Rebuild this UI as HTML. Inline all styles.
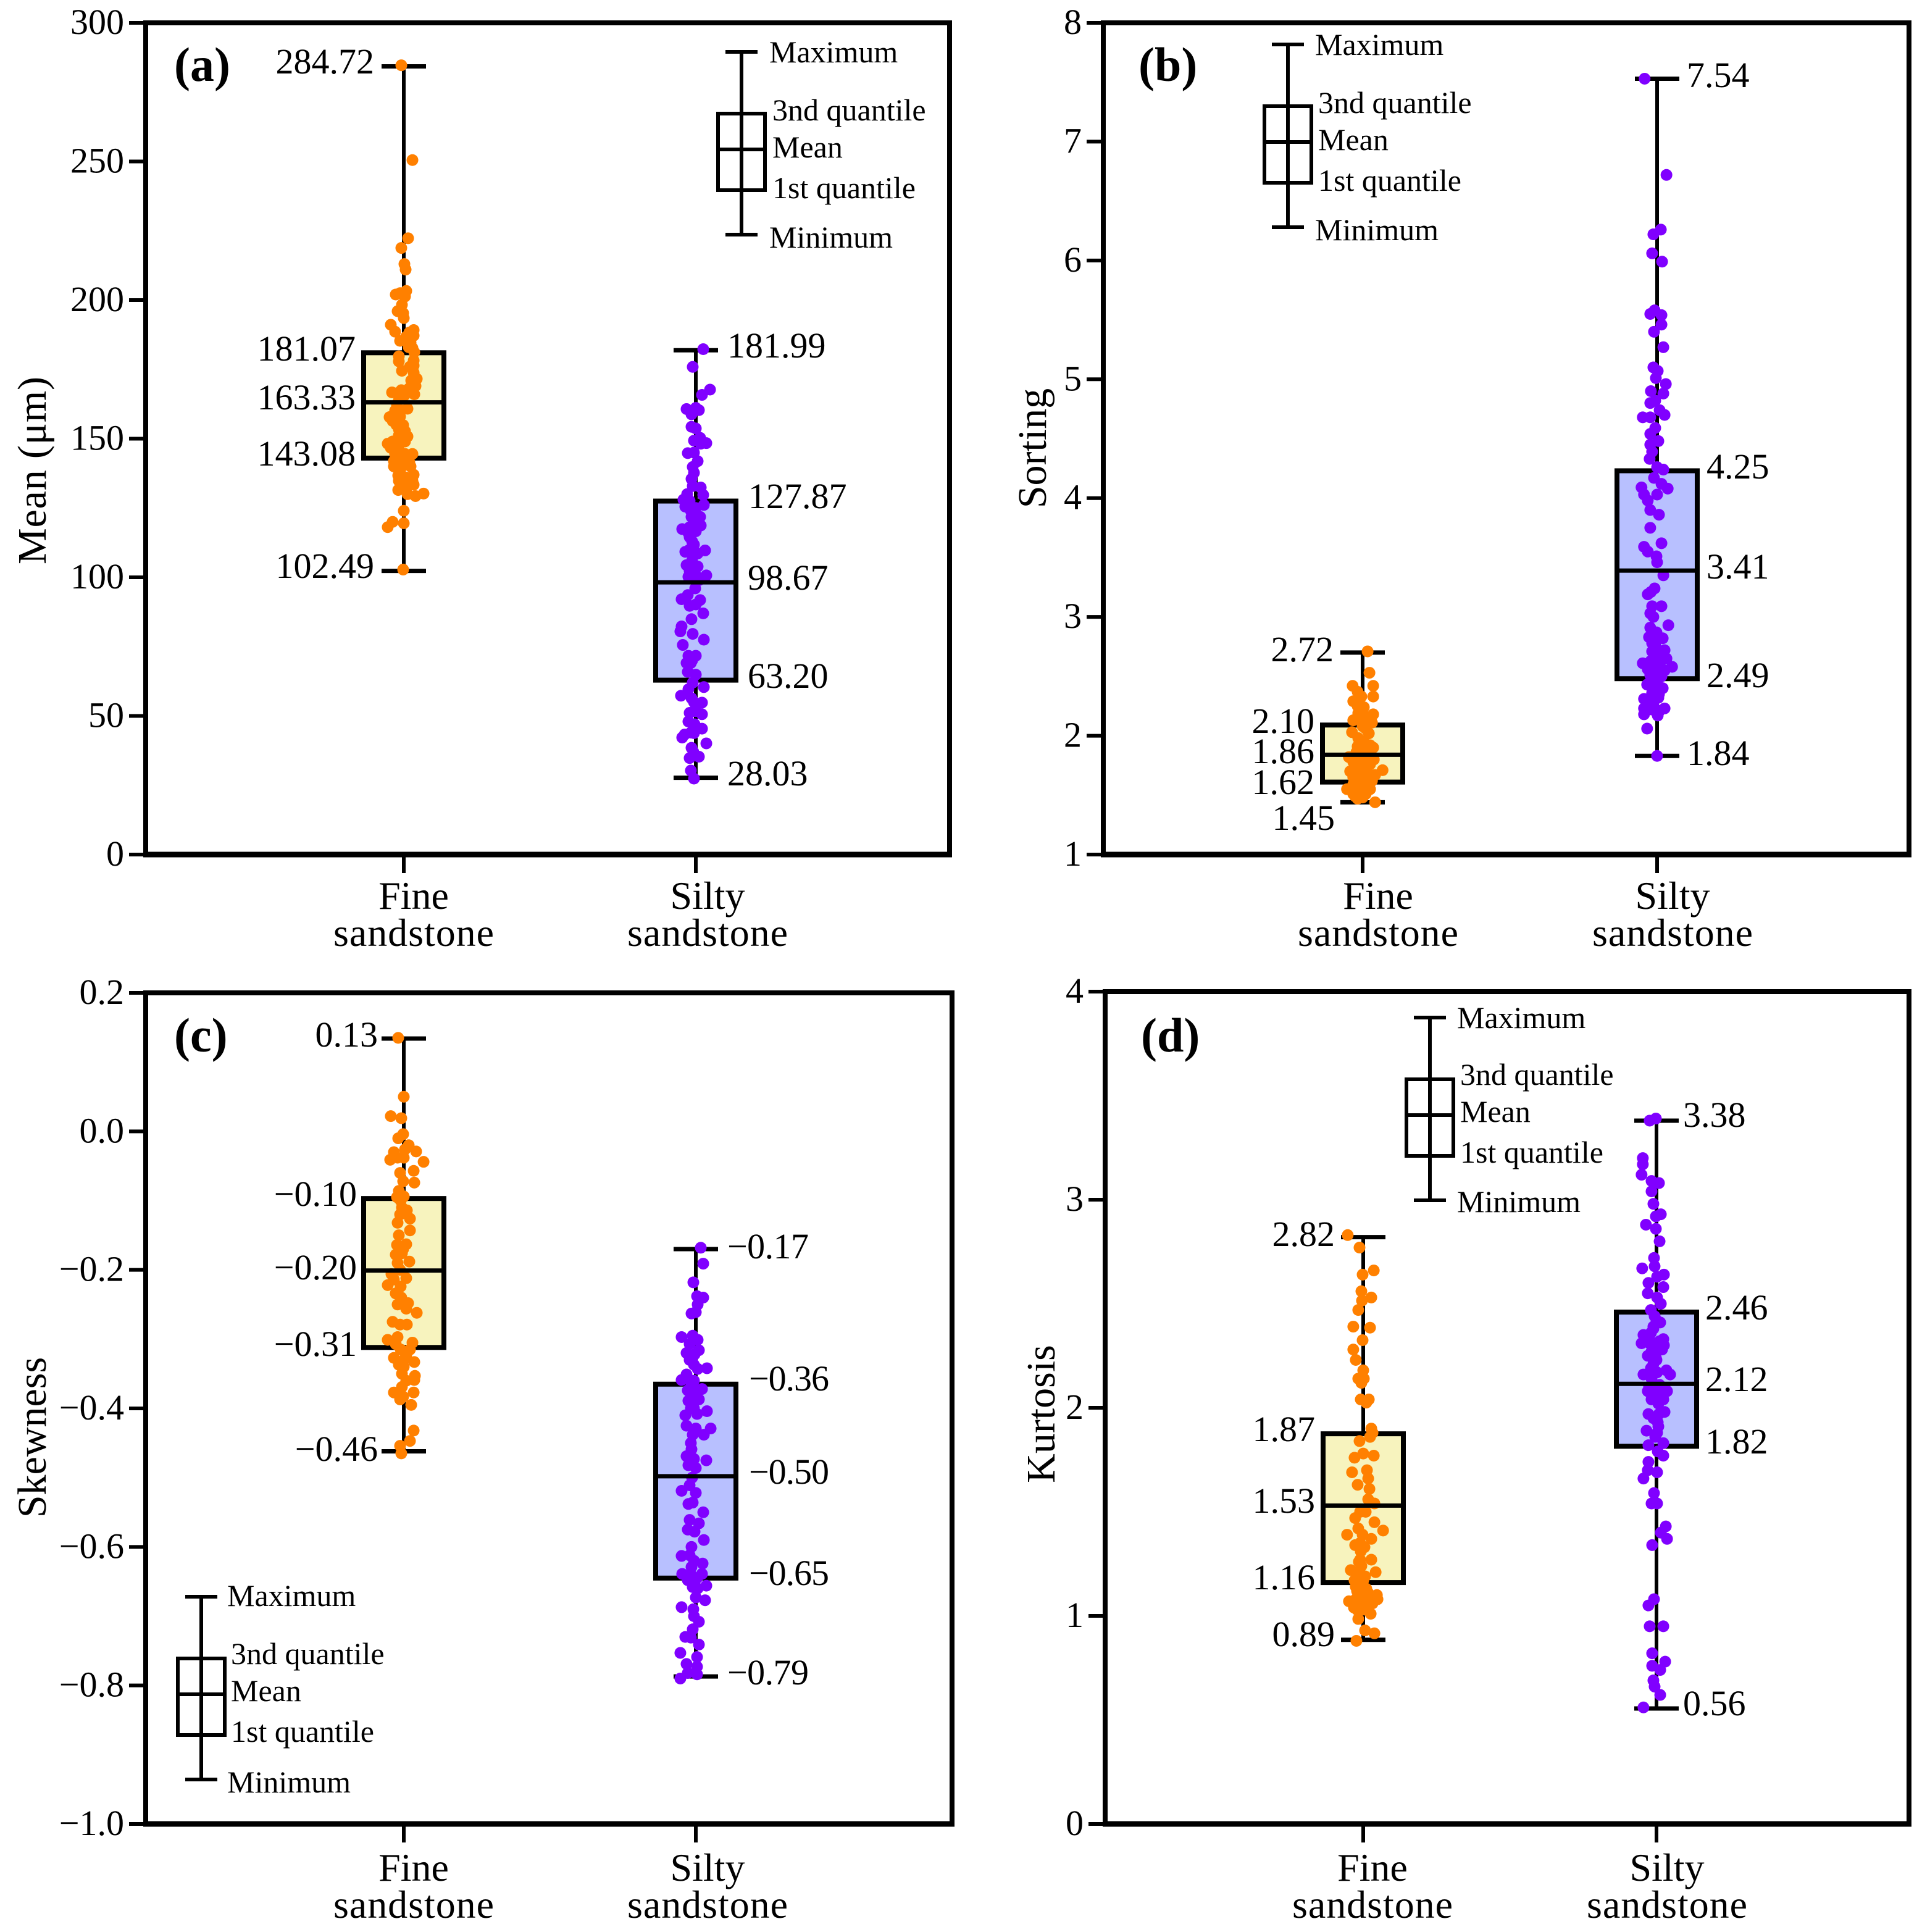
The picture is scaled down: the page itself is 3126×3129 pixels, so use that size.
<!DOCTYPE html>
<html lang="en">
<head>
<meta charset="utf-8">
<title>Grain size parameters of fine and silty sandstone</title>
<style>
html,body{margin:0;padding:0;background:#fff;}
svg{display:block;}
text{font-family:"Liberation Serif",serif;fill:#000;}
.val{font-size:58px;}
.key{font-size:50px;}
.cat{font-size:64px;}
.title{font-size:66px;}
.tag{font-size:78px;font-weight:bold;}
.tick{font-size:58px;}
</style>
</head>
<body>
<svg id="figure" xmlns="http://www.w3.org/2000/svg" width="3126" height="3129" viewBox="0 0 3126 3129">
<rect width="3126" height="3129" fill="#fff"/>
<g id="plots"></g>

<!-- panel tags -->
<text class="tag" x="282" y="131">(a)</text>
<text class="tag" x="1844" y="131">(b)</text>
<text class="tag" x="282" y="1703">(c)</text>
<text class="tag" x="1848" y="1703">(d)</text>

<!-- axis titles -->
<text class="title" transform="translate(74,762) rotate(-90)" text-anchor="middle" textLength="304">Mean (μm)</text>
<text class="title" transform="translate(1694,726) rotate(-90)" text-anchor="middle">Sorting</text>
<text class="title" transform="translate(74,2328) rotate(-90)" text-anchor="middle">Skewness</text>
<text class="title" transform="translate(1708,2290) rotate(-90)" text-anchor="middle">Kurtosis</text>

<!-- category labels -->
<g class="cat" text-anchor="middle">
<text class="cat" x="670" y="1472">Fine</text>
<text class="cat" x="670" y="1532" textLength="260">sandstone</text>
<text class="cat" x="1146" y="1472">Silty</text>
<text class="cat" x="1146" y="1532" textLength="260">sandstone</text>
<text class="cat" x="2232" y="1472">Fine</text>
<text class="cat" x="2232" y="1532" textLength="260">sandstone</text>
<text class="cat" x="2709" y="1472">Silty</text>
<text class="cat" x="2709" y="1532" textLength="260">sandstone</text>
<text class="cat" x="670" y="3046">Fine</text>
<text class="cat" x="670" y="3106" textLength="260">sandstone</text>
<text class="cat" x="1146" y="3046">Silty</text>
<text class="cat" x="1146" y="3106" textLength="260">sandstone</text>
<text class="cat" x="2223" y="3046">Fine</text>
<text class="cat" x="2223" y="3106" textLength="260">sandstone</text>
<text class="cat" x="2700" y="3046">Silty</text>
<text class="cat" x="2700" y="3106" textLength="260">sandstone</text>
</g>

<!-- printed statistics -->
<g>
<text class="val" text-anchor="end" x="606" y="119">284.72</text>
<text class="val" text-anchor="end" x="576" y="584">181.07</text>
<text class="val" text-anchor="end" x="576" y="663">163.33</text>
<text class="val" text-anchor="end" x="576" y="754">143.08</text>
<text class="val" text-anchor="end" x="606" y="936">102.49</text>
<text class="val" x="1178" y="579">181.99</text>
<text class="val" x="1212" y="823">127.87</text>
<text class="val" x="1211" y="955">98.67</text>
<text class="val" x="1211" y="1114">63.20</text>
<text class="val" x="1178" y="1272">28.03</text>
</g>
<g>
<text class="val" text-anchor="end" x="2160" y="1071">2.72</text>
<text class="val" text-anchor="end" x="2129" y="1187">2.10</text>
<text class="val" text-anchor="end" x="2129" y="1236">1.86</text>
<text class="val" text-anchor="end" x="2129" y="1286">1.62</text>
<text class="val" text-anchor="end" x="2162" y="1344">1.45</text>
<text class="val" x="2732" y="141">7.54</text>
<text class="val" x="2764" y="775">4.25</text>
<text class="val" x="2764" y="937">3.41</text>
<text class="val" x="2764" y="1113">2.49</text>
<text class="val" x="2732" y="1239">1.84</text>
</g>
<g>
<text class="val" text-anchor="end" x="612" y="1695">0.13</text>
<text class="val" text-anchor="end" x="578" y="1953">−0.10</text>
<text class="val" text-anchor="end" x="578" y="2072">−0.20</text>
<text class="val" text-anchor="end" x="578" y="2196">−0.31</text>
<text class="val" text-anchor="end" x="612" y="2366">−0.46</text>
<text class="val" x="1178" y="2038" textLength="132">−0.17</text>
<text class="val" x="1213" y="2252" textLength="130">−0.36</text>
<text class="val" x="1213" y="2403" textLength="130">−0.50</text>
<text class="val" x="1213" y="2567" textLength="130">−0.65</text>
<text class="val" x="1178" y="2728" textLength="132">−0.79</text>
</g>
<g>
<text class="val" text-anchor="end" x="2162" y="2018">2.82</text>
<text class="val" text-anchor="end" x="2130" y="2334">1.87</text>
<text class="val" text-anchor="end" x="2130" y="2450">1.53</text>
<text class="val" text-anchor="end" x="2130" y="2574">1.16</text>
<text class="val" text-anchor="end" x="2162" y="2666">0.89</text>
<text class="val" x="2726" y="1825">3.38</text>
<text class="val" x="2762" y="2137">2.46</text>
<text class="val" x="2762" y="2253">2.12</text>
<text class="val" x="2762" y="2354">1.82</text>
<text class="val" x="2726" y="2778">0.56</text>
</g>

<!-- legend keys -->
<g transform="translate(1201,84)" stroke="#000" stroke-width="6" fill="none">
<path d="M-26 0H26M0 0V296M-26 296H26"/>
<rect x="-38" y="100" width="76" height="124"/>
<path d="M-38 158H38"/>
<g stroke="none" fill="#000">
<text class="key" x="45" y="17">Maximum</text>
<text class="key" x="50" y="111">3nd quantile</text>
<text class="key" x="50" y="171">Mean</text>
<text class="key" x="50" y="237">1st quantile</text>
<text class="key" x="45" y="317">Minimum</text>
</g></g>
<g transform="translate(2086,72)" stroke="#000" stroke-width="6" fill="none">
<path d="M-26 0H26M0 0V296M-26 296H26"/>
<rect x="-38" y="100" width="76" height="124"/>
<path d="M-38 158H38"/>
<g stroke="none" fill="#000">
<text class="key" x="44" y="17">Maximum</text>
<text class="key" x="49" y="111">3nd quantile</text>
<text class="key" x="49" y="171">Mean</text>
<text class="key" x="49" y="237">1st quantile</text>
<text class="key" x="44" y="317">Minimum</text>
</g></g>
<g transform="translate(326,2586)" stroke="#000" stroke-width="6" fill="none">
<path d="M-26 0H26M0 0V296M-26 296H26"/>
<rect x="-38" y="100" width="76" height="124"/>
<path d="M-38 158H38"/>
<g stroke="none" fill="#000">
<text class="key" x="42" y="15">Maximum</text>
<text class="key" x="48" y="109">3nd quantile</text>
<text class="key" x="48" y="169">Mean</text>
<text class="key" x="48" y="235">1st quantile</text>
<text class="key" x="42" y="317">Minimum</text>
</g></g>
<g transform="translate(2316,1648)" stroke="#000" stroke-width="6" fill="none">
<path d="M-26 0H26M0 0V296M-26 296H26"/>
<rect x="-38" y="100" width="76" height="124"/>
<path d="M-38 158H38"/>
<g stroke="none" fill="#000">
<text class="key" x="44" y="17">Maximum</text>
<text class="key" x="49" y="109">3nd quantile</text>
<text class="key" x="49" y="169">Mean</text>
<text class="key" x="49" y="235">1st quantile</text>
<text class="key" x="44" y="315">Minimum</text>
</g></g>
</svg>

<script>
// ---- Tick values and labels ----
const meanTicks = [0,50,100,150,200,250,300];
const meanTickLabels = ["0","50","100","150","200","250","300"];
const sortingTicks = [1,2,3,4,5,6,7,8];
const sortingTickLabels = ["1","2","3","4","5","6","7","8"];
const skewTicks = [-1,-0.8,-0.6,-0.4,-0.2,0,0.2];
const skewTickLabels = ["−1.0","−0.8","−0.6","−0.4","−0.2","0.0","0.2"];
const kurtTicks = [0,1,2,3,4];
const kurtTickLabels = ["0","1","2","3","4"];

// ---- Box statistics as drawn in the picture: [min, q1, mean, q3, max] ----
const meanFineStats = [102.3,143.0,163.1,181.0,284.3];
const meanSiltyStats = [27.7,62.9,98.2,127.5,181.9];
const sortingFineStats = [1.44,1.61,1.84,2.09,2.70];
const sortingSiltyStats = [1.83,2.48,3.39,4.23,7.53];
const skewFineStats = [-0.462,-0.312,-0.201,-0.097,0.134];
const skewSiltyStats = [-0.787,-0.645,-0.498,-0.365,-0.17];
const kurtFineStats = [0.885,1.16,1.53,1.875,2.82];
const kurtSiltyStats = [0.555,1.815,2.115,2.46,3.38];

// ---- Samples (values) and their horizontal jitter (1/472 of the category spacing) ----
const meanFineValues = [284.7,250.5,222.3,218.8,213,211,202,202.5,203.3,201.3,198.3,196,195.3,193.5,191.1,188.6,189.2,188.3,187.2,186.8,185.3,184.6,182.7,181.2,179.7,177.9,178.2,176.4,174.5,173.8,171.6,169.3,169,167.5,166.7,166.4,166,165.6,163.8,162,160.8,160.1,159.7,157.8,157.8,156.4,156.4,154.9,153.4,152.7,151.2,150.8,149,148.2,149,146.7,147.8,144.5,144.5,144.5,143,141.9,141.5,140,139.7,140,136.7,137,134.8,134.8,133.4,131.5,130,129.3,130.2,124,120,119.5,118.1,102.8,158,155,153,151,148,146,143,141,138,136,133,171,176,183,168];
const meanFineJitter = [-4,14,7,-4,1,3,-13,-6,4,2,-3,-10,-1,0,-21,-14,16,9,16,4,-6,11,14,17,-8,-8,16,16,-3,16,21,14,19,-4,-19,-11,17,1,-8,-11,6,-14,-8,-23,-14,-9,-18,-1,-8,2,-8,6,-18,-26,2,-21,-8,14,-14,2,-4,-16,9,-16,-4,11,-9,16,-8,14,16,-9,6,19,32,0,-18,0,-26,-1,-6,-12,-4,-2,-12,-8,-10,-6,-6,4,3,12,10,8,8];
const meanSiltyValues = [182.3,175.9,167.7,165.8,160.7,161.1,160.3,158.8,154.3,153.7,150.3,149.3,148.4,148.2,144.8,145,141.9,139.8,137.7,135.5,132.9,132.4,129.7,128,127.6,126.1,125.5,125,121.8,121.8,118.7,117.4,118.1,116.6,114.5,111.8,109.7,109.2,108.1,108.6,104.4,103.9,102.3,100.7,100.7,100.2,96,93.6,92.1,91.8,89.7,90.2,87,84.9,82.3,80.5,79.6,77.5,75.6,71.7,71.7,69.1,69.1,65.9,64.9,60.4,59.6,57.3,56.4,54.8,53.8,51.1,50.6,48,51.7,43.3,45.4,42.2,43.8,40.1,38.5,34.8,35.3,30.3,27.4,124,120,116,113,110,106,104,101,99,130,70,62,55,47,44,37];
const meanSiltyJitter = [12,-5,23,10,-15,0,5,-7,-7,0,7,-3,17,8,-13,-3,3,-5,-3,-7,-5,8,12,-20,-10,13,-17,0,7,-7,8,-22,-10,0,-10,-3,15,-17,-3,3,-15,3,-10,17,0,-12,-1,-13,-23,7,-10,0,12,-7,-23,-25,-5,13,-21,0,-12,-15,-8,-13,0,13,-12,-24,-7,10,0,-10,10,-12,0,-18,10,-22,-3,17,-7,-10,5,-8,-3,-8,-3,-12,-6,-10,-6,-10,-6,5,-14,-6,-5,-3,-2,-8,-4];

const sortingFineValues = [2.71,2.53,2.42,2.42,2.37,2.33,2.29,2.33,2.25,2.24,2.18,2.19,2.13,2.16,2.11,2.13,2.08,2.06,2.03,2.02,1.98,1.95,1.92,1.91,1.90,1.90,1.88,1.86,1.85,1.82,1.80,1.78,1.80,1.76,1.75,1.70,1.71,1.72,1.69,1.67,1.66,1.65,1.64,1.62,1.60,1.55,1.59,1.57,1.55,1.53,1.51,1.50,1.51,1.47,1.48,1.44,1.6,1.58,1.56,1.54,1.52,1.49,1.68,1.74,1.79,1.83];
const sortingFineJitter = [8,11,17,-16,-8,17,-15,-2,-8,2,17,-7,-15,5,15,2,0,5,-17,10,-7,2,12,-8,17,5,10,-10,-5,-22,18,-15,-2,12,0,-20,32,-5,8,20,5,-15,2,15,-8,-25,-15,2,12,-5,-15,-3,5,-8,0,20,-12,-8,-4,-10,-6,-12,-3,-6,0,4];
const sortingSiltyValues = [7.53,6.72,6.26,6.22,6.06,5.99,5.55,5.58,5.54,5.46,5.40,5.27,5.10,5.07,5.01,4.96,4.90,4.88,4.80,4.82,4.74,4.68,4.68,4.70,4.59,4.54,4.48,4.45,4.39,4.33,4.26,4.24,4.17,4.09,4.12,4.08,4.03,4.03,3.98,3.90,3.86,3.75,3.59,3.62,3.55,3.51,3.46,3.35,3.24,3.21,3.19,3.09,3.09,3.03,3.0,2.93,2.91,2.83,2.82,2.87,2.76,2.71,2.72,2.69,2.65,2.61,2.63,2.62,2.58,2.56,2.57,2.55,2.51,2.50,2.43,2.45,2.40,2.31,2.36,2.32,2.23,2.23,2.22,2.21,2.18,2.17,2.06,1.83,2.66,2.6,2.54,2.52,2.48,2.46,2.42,2.38,2.35,2.29,2.27,2.2,2.78,2.85];
const sortingSiltyJitter = [-20,15,6,-6,-8,8,-11,-4,7,7,-5,10,-6,1,-2,14,-10,10,-11,-3,4,-23,-11,12,-3,-11,2,-11,-8,-12,0,10,-5,-25,7,17,0,-21,-15,-11,3,-11,-21,7,-15,-1,0,10,-4,-10,-15,-8,7,-11,-6,18,-11,-13,9,-1,-3,-8,12,2,15,-23,-10,5,24,-15,-1,12,-11,7,-16,-3,9,-21,-8,2,-21,12,-8,4,-21,1,-16,0,0,-3,2,-6,-9,0,-8,-3,3,-12,-6,2,-8,-3];

const skewFineValues = [0.135,0.05,0.022,0.019,-0.004,-0.01,-0.02,-0.03,-0.026,-0.029,-0.041,-0.038,-0.038,-0.044,-0.06,-0.057,-0.074,-0.072,-0.086,-0.095,-0.094,-0.11,-0.114,-0.126,-0.132,-0.143,-0.164,-0.163,-0.178,-0.176,-0.188,-0.19,-0.206,-0.212,-0.222,-0.214,-0.234,-0.224,-0.25,-0.248,-0.256,-0.262,-0.275,-0.279,-0.279,-0.297,-0.301,-0.305,-0.307,-0.315,-0.315,-0.327,-0.323,-0.333,-0.337,-0.34,-0.353,-0.359,-0.369,-0.377,-0.377,-0.383,-0.387,-0.395,-0.432,-0.447,-0.454,-0.465,-0.10,-0.12,-0.15,-0.17,-0.2,-0.24,-0.33,-0.35,-0.36];
const skewFineJitter = [-9,0,-21,-4,-1,-9,8,-16,2,20,-22,-10,0,32,-6,16,17,-1,-8,-11,0,-3,5,10,-10,10,-11,4,-13,-3,9,-10,-20,4,-26,-16,-13,-5,-10,7,4,21,-18,5,-6,-10,-26,14,-13,-5,10,-16,4,17,-8,0,18,17,-3,-16,16,-1,-6,12,16,10,-6,-4,-5,-6,-8,-1,-6,-4,0,-3,4];
const skewSiltyValues = [-0.168,-0.191,-0.218,-0.238,-0.24,-0.25,-0.263,-0.261,-0.295,-0.297,-0.301,-0.307,-0.316,-0.32,-0.322,-0.342,-0.337,-0.343,-0.351,-0.359,-0.362,-0.372,-0.374,-0.374,-0.389,-0.387,-0.404,-0.41,-0.408,-0.4,-0.425,-0.429,-0.429,-0.438,-0.438,-0.459,-0.469,-0.475,-0.473,-0.482,-0.486,-0.511,-0.519,-0.522,-0.538,-0.536,-0.55,-0.561,-0.566,-0.575,-0.578,-0.59,-0.6,-0.613,-0.612,-0.624,-0.629,-0.639,-0.639,-0.648,-0.645,-0.656,-0.658,-0.673,-0.677,-0.687,-0.69,-0.708,-0.719,-0.73,-0.731,-0.741,-0.753,-0.759,-0.769,-0.773,-0.782,-0.79,-0.784,-0.33,-0.36,-0.38,-0.40,-0.45,-0.48,-0.50,-0.62,-0.64,-0.66,-0.70];
const skewSiltyJitter = [8,12,-4,2,12,3,-7,0,-5,-23,3,-10,5,-15,-2,18,-3,3,-15,-23,-8,10,-13,0,-12,5,18,-17,2,-8,-15,0,24,13,-5,-7,-15,17,-3,-12,0,-10,-23,0,-12,-5,12,-10,5,-13,-2,13,-7,-23,-10,11,-7,-22,10,-13,2,17,-5,0,15,-23,-4,5,-5,-17,-8,5,-25,2,-15,2,-13,-25,2,-10,-3,-8,-3,-8,-5,-6,-3,-8,3,-3];

const kurtFineValues = [2.83,2.77,2.66,2.64,2.56,2.53,2.515,2.47,2.39,2.385,2.325,2.28,2.23,2.18,2.14,2.14,2.12,2.04,2.04,2.025,1.90,1.88,1.86,1.84,1.76,1.78,1.77,1.69,1.70,1.66,1.63,1.61,1.56,1.54,1.50,1.50,1.47,1.45,1.41,1.42,1.39,1.39,1.37,1.34,1.33,1.27,1.27,1.22,1.21,1.21,1.17,1.12,1.10,1.07,1.08,1.09,1.06,1.08,1.04,1.03,1.01,0.985,0.93,0.916,0.88,1.24,1.19,1.15,1.13,1.11,1.09,1.07,1.05,1.03,1.14,1.17,1.26,1.31,1.35];
const kurtFineJitter = [-25,-6,17,-1,-3,13,-2,-8,-16,11,-1,-16,-12,0,-8,1,-3,-4,9,5,13,15,11,-6,-14,0,17,-18,6,8,-9,10,8,18,-5,4,-13,18,32,-8,-26,-1,13,-13,2,13,-5,-20,20,-8,0,-10,22,-23,-12,2,15,23,-15,2,12,-8,3,18,-11,-3,3,-7,5,8,-8,-5,-2,-10,-12,-14,-7,-4,-5];
const kurtSiltyValues = [3.38,3.39,3.2,3.17,3.12,3.09,3.08,3.04,2.98,2.93,2.92,2.88,2.86,2.8,2.72,2.67,2.68,2.64,2.6,2.63,2.58,2.55,2.53,2.5,2.47,2.44,2.41,2.39,2.35,2.31,2.33,2.31,2.29,2.3,2.25,2.24,2.28,2.16,2.19,2.16,2.18,2.17,2.08,2.08,2.06,2.04,2.04,1.97,1.97,1.98,1.93,1.89,1.88,1.82,1.83,1.79,1.77,1.74,1.69,1.7,1.66,1.59,1.54,1.54,1.43,1.4,1.37,1.34,1.08,1.05,0.95,0.95,0.82,0.78,0.76,0.74,0.69,0.66,0.62,0.56,2.42,2.38,2.36,2.34,2.32,2.27,2.23,2.21,2.14,2.11,2.10,2.09,2.07,2.02,1.95,1.91,1.86];
const kurtSiltyJitter = [-11,-1,-22,-22,-24,-8,4,-8,-5,7,-1,-17,-1,5,-4,-23,-3,12,-13,1,11,-14,1,7,-9,-3,6,-5,-21,-24,11,-11,1,12,-14,-1,9,-21,-9,22,16,1,-14,17,1,-8,11,-13,4,13,2,-16,1,-13,11,2,11,-13,1,-14,-21,-4,-8,1,15,7,17,-7,-4,-13,-11,11,-7,14,-7,6,-5,-3,6,-21,0,-5,-9,-12,5,-8,0,-5,-8,5,-12,0,9,3,-5,3,-2];

// ---- Drawing ----
const SVG_NS = "http://www.w3.org/2000/svg";
const plots = document.getElementById("plots");
const FINE_DOT = "#ff8000", SILTY_DOT = "#8000ff";
const FINE_BOX = "#f7f3be", SILTY_BOX = "#b8c0ff";

function shape(tag, attrs, parent) {
  const el = document.createElementNS(SVG_NS, tag);
  for (const k in attrs) el.setAttribute(k, attrs[k]);
  parent.appendChild(el);
  return el;
}
function linearScale(d0, d1, r0, r1) {
  return v => r0 + (v - d0) * (r1 - r0) / (d1 - d0);
}
function drawSeries(group, cx, band, y, stats, values, jitter, dotColor, boxColor, seriesName) {
  const [min, q1, mean, q3, max] = stats;
  const halfBox = 65, halfCap = 36;

  const whisker = shape("line", {x1:cx, x2:cx, y1:y(max), y2:y(min), stroke:"#000", "stroke-width":6}, group);
  
  

  const capTop = shape("line", {x1:cx-halfCap, x2:cx+halfCap, y1:y(max), y2:y(max), stroke:"#000", "stroke-width":7}, group);
  
  

  const capBottom = shape("line", {x1:cx-halfCap, x2:cx+halfCap, y1:y(min), y2:y(min), stroke:"#000", "stroke-width":7}, group);
  
  

  const box = shape("rect", {x:cx-halfBox, width:halfBox*2, y:y(q3), height:y(q1)-y(q3), fill:boxColor, stroke:"#000", "stroke-width":8}, group);
  
  

  values.forEach((v, i) => {
    const dot = shape("circle", {cx: cx + (jitter[i] || 0) * band / 472, cy: y(v), r: 9.5, fill: dotColor}, group);
    
    
  });

  const meanLine = shape("line", {x1:cx-halfBox, x2:cx+halfBox, y1:y(mean), y2:y(mean), stroke:"#000", "stroke-width":7}, group);
  
  
}
function drawPanel(p) {
  const group = shape("g", {}, plots);
  
  

  const y = linearScale(p.dMin, p.dMax, p.bottom, p.top);
  const band = p.x1 - p.x0;
  const x = i => p.x0 + i * band;

  const frame = shape("rect", {x:p.left, y:p.top, width:p.right-p.left, height:p.bottom-p.top, fill:"none", stroke:"#000", "stroke-width":8}, group);
  
  

  const baseline = shape("line", {x1:p.left-4, x2:p.right+4, y1:p.bottom, y2:p.bottom, stroke:"#000", "stroke-width":9}, group);
  
  

  p.ticks.forEach((t, i) => {
    const tick = shape("line", {x1:p.left-27, x2:p.left, y1:y(t), y2:y(t), stroke:"#000", "stroke-width":6}, group);
    
    
    const lab = shape("text", {x:p.left-35, y:y(t)+18, "text-anchor":"end", "class":"tick"}, group);
    
    
    lab.textContent = p.tickLabels[i];
  });
  [0, 1].forEach(i => {
    const tick = shape("line", {x1:x(i), x2:x(i), y1:p.bottom, y2:p.bottom+30, stroke:"#000", "stroke-width":6}, group);
    
    
  });
  drawSeries(group, x(0), band, y, p.fineStats, p.fineValues, p.fineJitter, FINE_DOT, FINE_BOX, 'fine-sandstone-' + p.id);
  drawSeries(group, x(1), band, y, p.siltyStats, p.siltyValues, p.siltyJitter, SILTY_DOT, SILTY_BOX, 'silty-sandstone-' + p.id);
}

drawPanel({id:"a", left:236, right:1538, top:37, bottom:1384, x0:654, x1:1127, dMin:0, dMax:300,
  ticks:meanTicks, tickLabels:meanTickLabels,
  fineStats:meanFineStats, fineValues:meanFineValues, fineJitter:meanFineJitter,
  siltyStats:meanSiltyStats, siltyValues:meanSiltyValues, siltyJitter:meanSiltyJitter});
drawPanel({id:"b", left:1787, right:3092, top:37, bottom:1384, x0:2207, x1:2684, dMin:1, dMax:8,
  ticks:sortingTicks, tickLabels:sortingTickLabels,
  fineStats:sortingFineStats, fineValues:sortingFineValues, fineJitter:sortingFineJitter,
  siltyStats:sortingSiltyStats, siltyValues:sortingSiltyValues, siltyJitter:sortingSiltyJitter});
drawPanel({id:"c", left:236, right:1542, top:1608, bottom:2954, x0:654, x1:1127, dMin:-1, dMax:0.2,
  ticks:skewTicks, tickLabels:skewTickLabels,
  fineStats:skewFineStats, fineValues:skewFineValues, fineJitter:skewFineJitter,
  siltyStats:skewSiltyStats, siltyValues:skewSiltyValues, siltyJitter:skewSiltyJitter});
drawPanel({id:"d", left:1790, right:3092, top:1606, bottom:2954, x0:2208, x1:2683, dMin:0, dMax:4,
  ticks:kurtTicks, tickLabels:kurtTickLabels,
  fineStats:kurtFineStats, fineValues:kurtFineValues, fineJitter:kurtFineJitter,
  siltyStats:kurtSiltyStats, siltyValues:kurtSiltyValues, siltyJitter:kurtSiltyJitter});
</script>
</body>
</html>
